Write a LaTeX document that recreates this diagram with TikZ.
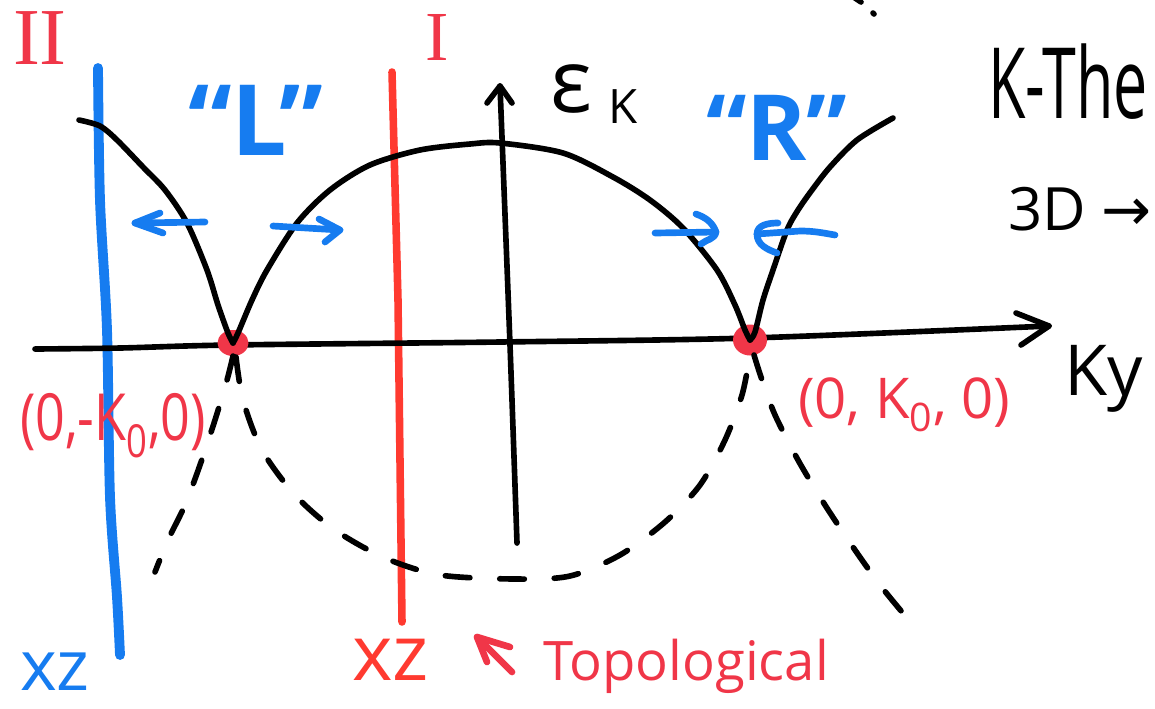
\documentclass[tikz,border=0pt]{standalone}
\usepackage{fontspec}
\setmainfont{Open Sans}
\newfontfamily\handn[FakeStretch=0.8]{Open Sans}
\newfontfamily\handc[FakeStretch=0.62]{Open Sans}
\newfontfamily\serifhand{Liberation Serif}
\newfontfamily\symb{DejaVu Sans}
\usetikzlibrary{shapes.geometric}
\definecolor{penblue}{RGB}{22,124,240}
\definecolor{penred}{RGB}{255,58,48}
\definecolor{inkred}{RGB}{240,54,72}
\tikzset{
  ink/.style={line width=3.2pt, line cap=round, line join=round},
  dashink/.style={ink, dash pattern=on 14pt off 17pt},
  bluepen/.style={line width=3.8pt, draw=penblue, line cap=round, line join=round},
  blueline/.style={line width=5.6pt, draw=penblue, line cap=round},
  redline/.style={line width=4.3pt, draw=penred, line cap=round},
  redpen/.style={line width=3.8pt, draw=inkred, line cap=round, line join=round},
  dotL/.style={ellipse, fill=inkred, inner sep=0, minimum width=0.62cm, minimum height=0.52cm},
  dotR/.style={ellipse, fill=inkred, inner sep=0, minimum width=0.68cm, minimum height=0.62cm},
  lbl/.style={anchor=base west, inner sep=0, outer sep=0},
}
\begin{document}
\begin{tikzpicture}[x=0.02cm, y=-0.02cm]
\useasboundingbox (0,0) rectangle (1155,708);
\clip (0,0) rectangle (1155,708);

% ---- vertical markers
\draw[blueline] plot[smooth] coordinates {(98,68) (100,200) (107,330) (110,497) (117,597) (120,655)};
\draw[redline] (392,72) -- (398,300) -- (402,622);

% ---- axes
\coordinate (hxs) at (35,349);
\coordinate (hxe) at (1049,326);
\draw[ink] plot[smooth] coordinates {(hxs) (120,348) (230,345) (500,342) (750,338) (hxe)};
\draw[ink] (1016,313) -- (hxe) -- (1021,345);
\coordinate (vys) at (517,543);
\coordinate (vye) at (500,86);
\draw[ink] plot[smooth] coordinates {(vys) (510,345) (vye)};
\draw[ink] (487,103) -- (vye) -- (512,103);

% ---- band crossing points
\node[dotL] (Lpt) at (233,343) {};
\node[dotR] (Rpt) at (750,340) {};

% ---- solid bands
\draw[ink] plot[smooth] coordinates {(79,120) (100,126) (117,140) (143,167) (165,190) (187,223) (207,270) (218,305) (228,333) (Lpt.center)};
\draw[ink] plot[smooth] coordinates {(Lpt.center) (238,333) (252,300) (267,270) (297,223) (330,190) (370,165) (420,150) (470,144) (500,143) (563,153) (613,177) (650,200) (683,228) (717,270) (735,305) (745,330) (Rpt.center)};
\draw[ink] plot[smooth] coordinates {(Rpt.center) (755,332) (763,300) (773,270) (787,230) (798,210) (812,190) (830,167) (857,140) (893,118)};

% ---- dashed continuations
\draw[dashink] plot[smooth] coordinates {(233,356) (227,380) (215,420) (200,465) (185,505) (168,540) (155,572)};
\draw[dashink] plot[smooth] coordinates {(236,357) (243,400) (262,450) (295,495) (335,530) (385,558) (440,575) (515,579) (570,576) (620,555) (665,522) (700,485) (725,440) (742,395) (750,355)};
\draw[dashink] plot[smooth] coordinates {(754,355) (762,380) (775,415) (798,460) (825,505) (855,550) (880,585) (902,612)};
\draw[ink] (852,-4) -- (861,2);
\draw[ink] (873,13) -- (874,14);

% ---- blue arrows
\coordinate (a1s) at (205,222); \coordinate (a1t) at (135,223);
\draw[bluepen] (a1s) -- (a1t);
\draw[bluepen] (160,213) -- (a1t) -- (163,233);
\coordinate (a2s) at (273,226); \coordinate (a2t) at (340,230);
\draw[bluepen] (a2s) -- (a2t);
\draw[bluepen] (319,219) -- (a2t) -- (325,242);
\coordinate (a3s) at (655,233); \coordinate (a3t) at (716,232);
\draw[bluepen] (a3s) -- (a3t);
\draw[bluepen] (696,214) to[out=-20,in=110] (a3t) to[out=-100,in=40] (701,244);
\coordinate (a4s) at (835,235); \coordinate (a4t) at (757,234);
\draw[bluepen] (a4s) to[out=170,in=0] (800,231) -- (a4t);
\draw[bluepen] (778,223) to[out=180,in=90] (a4t) to[out=-90,in=160] (777,253);

% ---- red arrow
\coordinate (ras) at (512,672); \coordinate (rat) at (477,637);
\draw[redpen] (ras) -- (rat);
\draw[redpen] (510,647) -- (rat) -- (487,662);

% ---- labels
\node[lbl, text=inkred, font={\serifhand\fontsize{46}{46}\selectfont}] (num2) at (13,64) {II};
\node[lbl, text=inkred, font={\serifhand\fontsize{40}{40}\selectfont}] (num1) at (425,60) {I};
\node[lbl, text=penblue, font={\bfseries\fontsize{56}{56}\selectfont}] (lL) at (188,155) {“L”};
\node[lbl, text=penblue, font={\bfseries\fontsize{52}{52}\selectfont}] (lR) at (706,160) {“R”};
\node[lbl, font={\fontsize{50}{50}\selectfont}] (eps) at (550,112) {ε};
\node[lbl, font={\fontsize{27}{27}\selectfont}] (epsK) at (608,123) {K};
\node[lbl, font={\handc\fontsize{56}{56}\selectfont}] (kth) at (988,118) {K-The};
\node[lbl, font={\fontsize{34}{34}\selectfont}] (threeD) at (1008,230) {3D \symb→};
\node[lbl, font={\fontsize{40}{40}\selectfont}] (ky) at (1064,395) {Ky};
\node[lbl, text=inkred, font={\handn\fontsize{37}{37}\selectfont}] (kl) at (20,440) {(0,-K\textsubscript{0},0)};
\node[lbl, text=inkred, font={\fontsize{32}{32}\selectfont}] (kr) at (798,418) {(0, K\textsubscript{0}, 0)};
\node[lbl, text=penblue, font={\fontsize{40}{40}\selectfont}] (xzb) at (20,690) {xz};
\node[lbl, text=penred, font={\fontsize{44}{44}\selectfont}] (xzr) at (352,680) {xz};
\node[lbl, text=inkred, font={\fontsize{31}{31}\selectfont}] (topo) at (543,680) {Topological};
\end{tikzpicture}
\end{document}
